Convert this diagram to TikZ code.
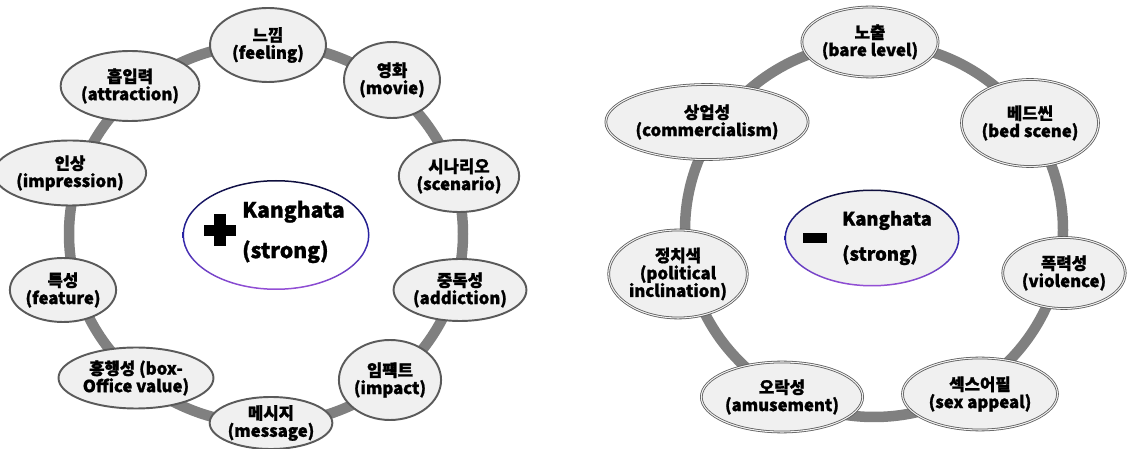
\documentclass[tikz,border=0pt]{standalone}
\usepackage{fontspec}
\setmainfont{Noto Sans CJK KR}[BoldFeatures={FakeBold=1.2}]
\usetikzlibrary{shapes.geometric}
\definecolor{ringgray}{RGB}{128,128,128}
\definecolor{kwfill}{RGB}{240,240,240}
\definecolor{kwline}{RGB}{90,90,90}
\definecolor{rimtop}{RGB}{15,15,60}
\definecolor{rimmid}{RGB}{40,35,165}
\definecolor{rimbot}{RGB}{150,80,215}
\tikzset{
  ring/.style={draw=ringgray, line width=0.21cm},
  kw/.style={ellipse, draw=kwline, line width=1.1pt, fill=kwfill, inner sep=0pt, align=center,
    font=\bfseries\fontsize{9.5}{10}\selectfont},
  kwr/.style={kw, line width=0.45pt, double=kwfill, double distance=0.6pt},
  core/.style={ellipse, inner sep=0pt},
  coretext/.style={anchor=west, align=left}
}
\begin{document}
\begin{tikzpicture}[x=0.02cm, y=0.02cm]
  \useasboundingbox (0,0) rectangle (1127,-449);
  \coordinate (lring) at (266,-234);
  \coordinate (rring) at (874,-230);
  \draw [ring] (lring) ellipse (197 and 190);
  \draw [ring] (rring) ellipse (189 and 187);

  \node [kw, minimum width=2.32cm, minimum height=1.48cm] (lfeel) at (268,-45) {느낌\\(feeling)};
  \node [kw, minimum width=1.92cm, minimum height=1.52cm] (lmovie) at (392,-80) {영화\\(movie)};
  \node [kw, minimum width=2.04cm, minimum height=1.44cm] (lscen) at (459,-176) {시나리오\\(scenario)};
  \node [kw, minimum width=2.3cm, minimum height=1.24cm] (laddic) at (460,-290) {중독성\\(addiction)};
  \node [kw, minimum width=1.8cm, minimum height=1.6cm] (limpact) at (390,-380) {임팩트\\(impact)};
  \node [kw, minimum width=2.3cm, minimum height=1.04cm] (lmsg) at (271,-423) {메시지\\(message)};
  \node [kw, minimum width=3.1cm, minimum height=1.22cm] (lbox) at (136,-378) {흥행성 (box-\\Office value)};
  \node [kw, minimum width=2.06cm, minimum height=1.28cm] (lfeat) at (63,-290) {특성\\(feature)};
  \node [kw, minimum width=2.5cm, minimum height=1.3cm] (limpr) at (70,-173) {인상\\(impression)};
  \node [kw, minimum width=2.24cm, minimum height=1.4cm] (lattr) at (130,-86) {흡입력\\(attraction)};

  \node [core, fill=white, minimum width=3.74cm, minimum height=2.2cm] (lcore) at (276,-235) {};
  \shade [top color=rimtop, bottom color=rimbot, middle color=rimmid, even odd rule]
    (lcore.center) ellipse (93.5 and 55) (lcore.center) ellipse (92 and 53.5);
  \fill (204,-225) rectangle (236,-236);
  \fill (214,-214) rectangle (226,-246);
  \node [coretext, font=\bfseries\fontsize{12}{14}\selectfont] (ltext) at (236,-232) {Kanghata\\[9pt](strong)};

  \node [kwr, minimum width=2.4cm, minimum height=1.4cm] (rbare) at (870,-42) {노출\\(bare level)};
  \node [kwr, minimum width=2.72cm, minimum height=1.74cm] (rbed) at (1030,-123) {베드씬\\(bed scene)};
  \node [kwr, minimum width=2.45cm, minimum height=1.42cm] (rviol) at (1064,-273) {폭력성\\(violence)};
  \node [kwr, minimum width=3.1cm, minimum height=1.44cm] (rsex) at (980,-394) {섹스어필\\(sex appeal)};
  \node [kwr, minimum width=3.1cm, minimum height=1.4cm] (ramuse) at (782,-397) {오락성\\(amusement)};
  \node [kwr, minimum width=2.76cm, minimum height=1.76cm] (rpolit) at (678,-274) {정치색\\(political\\inclination)};
  \node [kwr, minimum width=3.58cm, minimum height=1.5cm] (rcomm) at (707,-122) {상업성\\(commercialism)};

  \node [core, fill=kwfill, minimum width=3.5cm, minimum height=1.94cm] (rcore) at (872,-238) {};
  \shade [top color=rimtop, bottom color=rimbot, middle color=rimmid, even odd rule]
    (rcore.center) ellipse (87.5 and 48.5) (rcore.center) ellipse (86 and 47);
  \fill (803,-233) rectangle (827,-243);
  \node [coretext, font=\bfseries\fontsize{10.5}{12}\selectfont] (rtext) at (836,-238) {Kanghata\\[8pt](strong)};
\end{tikzpicture}
\end{document}
